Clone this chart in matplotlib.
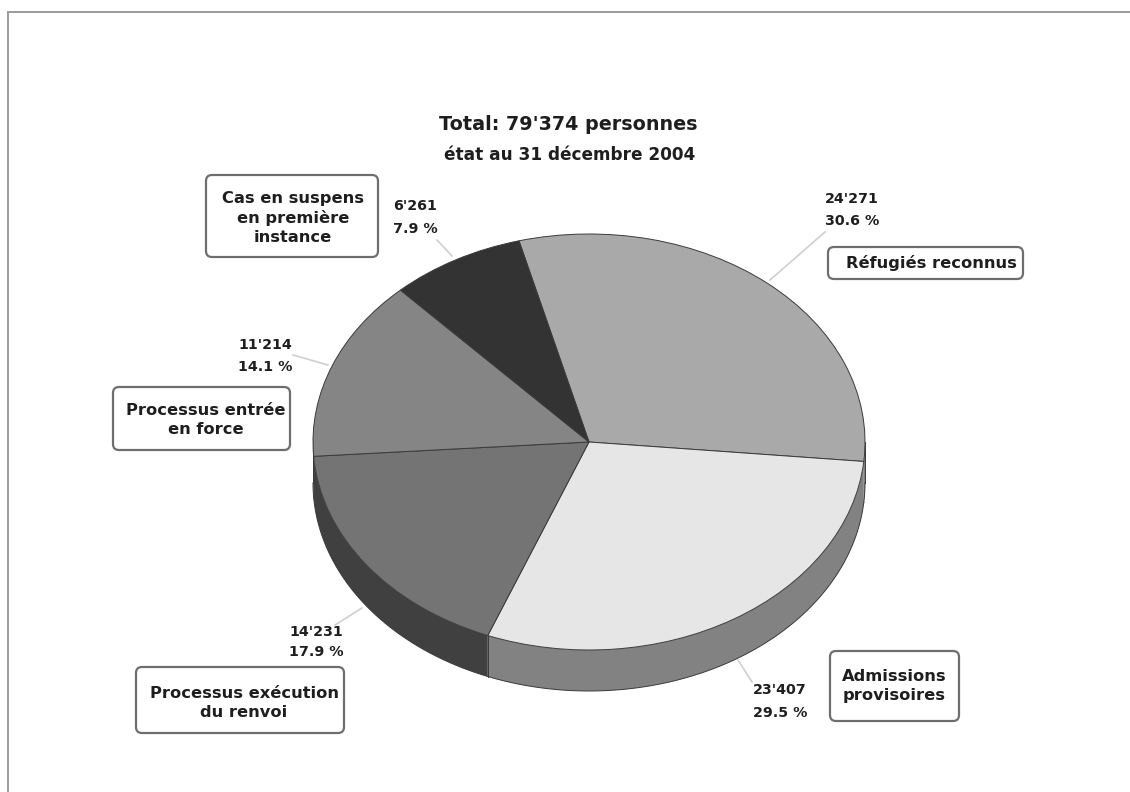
import matplotlib
matplotlib.use('Agg')
import matplotlib.pyplot as plt
from matplotlib.patches import FancyBboxPatch
import numpy as np

plt.rcParams['font.family'] = ['DejaVu Sans']

# data, clockwise from the top
categories = ['Réfugiés reconnus', 'Admissions\nprovisoires', 'Processus exécution\ndu renvoi',
              'Processus entrée\nen force', 'Cas en suspens\nen première\ninstance']
values = [24271, 23407, 14231, 11214, 6261]
value_labels = ["24'271", "23'407", "14'231", "11'214", "6'261"]
percent_labels = ['30.6 %', '29.5 %', '17.9 %', '14.1 %', '7.9 %']
top_colors = ['#a9a9a9', '#e6e6e6', '#747474', '#858585', '#333333']
side_colors = ['#808080', '#828282', '#404040', '#404040', '#333333']

# pie position in pixels
cx, cy, rx, ry, depth = 589, 442, 276, 208, 41
W, H = 1130, 792

fig = plt.figure(figsize=(W / 100, H / 100), dpi=100, facecolor='white')
ax = fig.add_axes([0, 0, 1, 1])

wedges, _ = ax.pie(values, colors=top_colors, startangle=104.7, counterclock=False,
                   wedgeprops={'edgecolor': '#3a3a3a', 'linewidth': 0.7, 'zorder': 3})
ax.set_aspect('auto')
ax.set_xlim(-cx / rx, (W - cx) / rx)
ax.set_ylim((cy - H) / ry, cy / ry)

# 3D wall under the front part of the pie
d = depth / ry
for w, col in zip(wedges, side_colors):
    a = max(w.theta1, -180)
    b = min(w.theta2, 0)
    if a >= b:
        continue
    t = np.radians(np.linspace(a, b, 120))
    xs = np.concatenate([np.cos(t), np.cos(t[::-1])])
    ys = np.concatenate([np.sin(t), np.sin(t[::-1]) - d])
    ax.fill(xs, ys, facecolor=col, edgecolor='none', zorder=2)
    ax.plot(np.cos(t), np.sin(t) - d, color='#3a3a3a', lw=0.7, zorder=2.5)
    # seam between the two visible wall colours, silhouette at the two ends
    if -150 < a < -100 or a == -180 or b == 0:
        e = a if b != 0 else b
        x0, y0 = np.cos(np.radians(e)), np.sin(np.radians(e))
        ax.plot([x0, x0], [y0, y0 - d], color='#3a3a3a', lw=0.7, zorder=2.5)

# overlay in pixel coordinates for text and boxes
ov = fig.add_axes([0, 0, 1, 1], facecolor='none')
ov.set_xlim(0, W)
ov.set_ylim(H, 0)
ov.axis('off')

# frame of the page
ov.plot([7.5, 7.5, W], [H, 11.5, 11.5], color='#9a9a9a', lw=1.4, solid_joinstyle='miter')

txt = '#1e1e1e'
ov.text(568, 124, "Total: 79'374 personnes", ha='center', va='center', fontsize=13.8,
        fontweight='bold', color=txt)
ov.text(570, 155, 'état au 31 décembre 2004', ha='center', va='center', fontsize=12.2,
        fontweight='bold', color=txt)

# leader lines
leaders = [((770, 280), (825, 232)), ((752, 682), (738, 660)), ((362, 608), (335, 625)),
           ((328, 365), (293, 355)), ((452, 256), (437, 240))]
for p, q in leaders:
    ov.plot([p[0], q[0]], [p[1], q[1]], color='#cfcfcf', lw=1.2, zorder=1)

# value / percent labels
val_pos = [(825, 199, 221), (753, 690, 713), (289, 632, 652), (238, 345, 367), (393, 206, 229)]
for (x, y1, y2), v, p in zip(val_pos, value_labels, percent_labels):
    ov.text(x, y1, v, ha='left', va='center', fontsize=10.3, fontweight='bold', color=txt)
    ov.text(x, y2, p, ha='left', va='center', fontsize=10.3, fontweight='bold', color=txt)

# category boxes: left, top, right, bottom
boxes = [(828, 247, 1023, 279), (830, 651, 959, 721), (136, 667, 344, 733),
         (113, 387, 290, 450), (206, 175, 378, 257)]
label_centers = [(931, 263), (894, 686), (244, 703), (206, 420), (293, 218)]
for (l, t, r, b), (lx, ly), name in zip(boxes, label_centers, categories):
    ov.add_patch(FancyBboxPatch((l + 5, t + 5), r - l - 10, b - t - 10,
                                boxstyle='round,pad=5,rounding_size=6', facecolor='white',
                                edgecolor='#6e6e6e', linewidth=1.6, zorder=2))
    ov.text(lx, ly, name, ha='center', va='center', fontsize=11.7, fontweight='bold',
            color=txt, linespacing=1.32, zorder=3)

fig.savefig('out.png', dpi=100, facecolor='white')
